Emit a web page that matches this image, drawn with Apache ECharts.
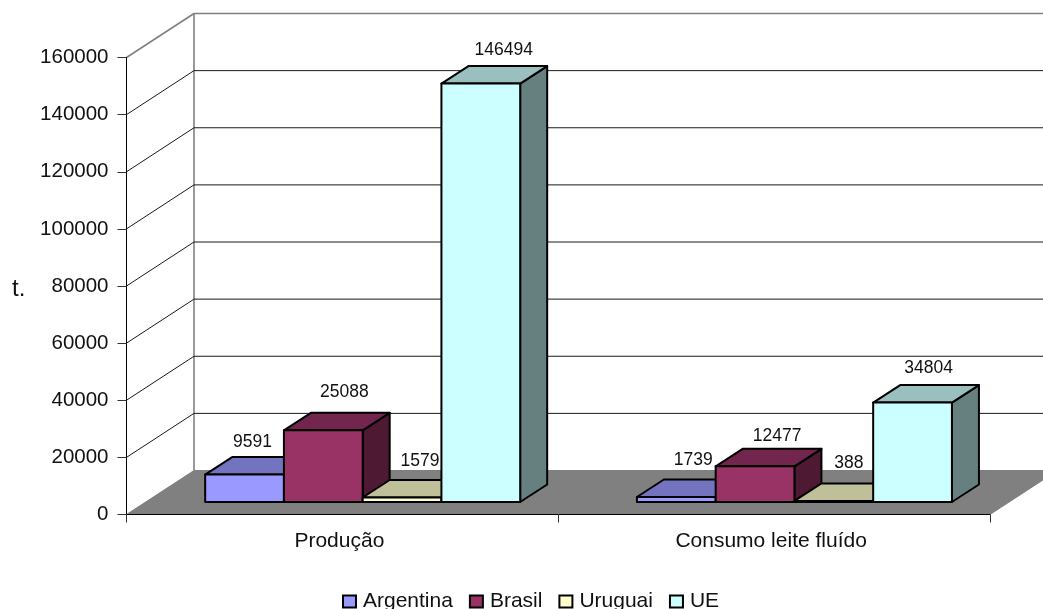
<!DOCTYPE html>
<html>
<head>
<meta charset="utf-8">
<style>html,body{margin:0;padding:0;background:#fff}#c{width:1043px;height:609px}</style>
<script src="https://cdn.jsdelivr.net/npm/echarts@6/dist/echarts.min.js"></script>
</head>
<body>
<div id="c"></div>
<script>
// Milk production and fluid consumption by region, drawn as extruded columns
const categories = ['Produção', 'Consumo leite fluído'];
const seriesNames = ['Argentina', 'Brasil', 'Uruguai', 'UE'];
const argentina = [9591, 1739];
const brasil = [25088, 12477];
const uruguai = [1579, 388];
const ue = [146494, 34804];
const yTicks = [0, 20000, 40000, 60000, 80000, 100000, 120000, 140000, 160000];
const unitLabel = 't.';

const FONT = '"Liberation Sans", Arial, sans-serif';
const frontColors = ['#9999FF', '#993366', '#FFFFCC', '#CCFFFF'];
const topColors = ['#7373BF', '#73264D', '#BFBF99', '#99BFBF'];
const sideColors = ['#4D4D80', '#4D1933', '#80806A', '#668080'];

// Projection of the chart box and of each column, in pixels
const WALL = [67.5, -44];
const FLOOR_SHIFT = [20.3, -12.5];
const BAR = [27, -17.5];
const BAR_BAND = 78.8 / 432;

// Per-label nudges from the column's front-top centre: [series][category]
const labelShift = [
  [[8, -32], [17, -37]],
  [[21, -38], [22, -30]],
  [[18, -36], [15, -38]],
  [[23, -33], [16, -34]]
];

function renderWalls(params, api) {
  const cs = params.coordSys;
  const left = cs.x, right = cs.x + cs.width;
  const tick = api.value(1);
  const y = api.coord([0, tick])[1];
  const isTop = tick === yTicks[yTicks.length - 1];
  const lineStyle = { stroke: isTop ? '#808080' : '#1a1a1a', lineWidth: isTop ? 1.6 : 1, fill: null };
  const children = [];
  if (tick === 0) {
    // Floor of the box
    children.push({
      type: 'polygon',
      shape: { points: [[left, y], [left + WALL[0], y + WALL[1]], [right + WALL[0], y + WALL[1]], [right, y]] },
      style: { fill: '#808080', stroke: '#808080', lineWidth: 1 }
    });
    // Back corner of the walls
    children.push({
      type: 'line',
      shape: { x1: left + WALL[0], y1: y + WALL[1], x2: left + WALL[0], y2: cs.y + WALL[1] },
      style: { stroke: '#808080', lineWidth: 1.6 }
    });
  } else {
    children.push({
      type: 'line',
      shape: { x1: left, y1: y, x2: left + WALL[0], y2: y + WALL[1] },
      style: lineStyle
    });
    children.push({
      type: 'line',
      shape: { x1: left + WALL[0], y1: y + WALL[1], x2: right + WALL[0], y2: y + WALL[1] },
      style: lineStyle
    });
  }
  return { type: 'group', children: children };
}

function renderColumn(params, api) {
  const s = params.seriesIndex - 1;
  const cat = api.value(0);
  const val = api.value(1);
  const band = api.size([1, 0])[0];
  const w = band * BAR_BAND;
  const base = api.coord([cat, 0]);
  const head = api.coord([cat, val]);
  const x0 = base[0] + FLOOR_SHIFT[0] + (s - 2) * w;
  const x1 = x0 + w;
  const y0 = base[1] + FLOOR_SHIFT[1];
  const y1 = head[1] + FLOOR_SHIFT[1];
  const dx = BAR[0], dy = BAR[1];
  const edge = { stroke: '#000', lineWidth: 2, lineJoin: 'round' };
  const shift = labelShift[s][cat];
  return {
    type: 'group',
    children: [
      { type: 'polygon', shape: { points: [[x1, y0], [x1 + dx, y0 + dy], [x1 + dx, y1 + dy], [x1, y1]] },
        style: Object.assign({ fill: sideColors[s] }, edge) },
      { type: 'polygon', shape: { points: [[x0, y1], [x0 + dx, y1 + dy], [x1 + dx, y1 + dy], [x1, y1]] },
        style: Object.assign({ fill: topColors[s] }, edge) },
      { type: 'polygon', shape: { points: [[x0, y0], [x0, y1], [x1, y1], [x1, y0]] },
        style: Object.assign({ fill: frontColors[s] }, edge) },
      { type: 'text', z2: 50,
        style: { text: String(val), x: (x0 + x1) / 2 + shift[0], y: y1 + shift[1],
                 align: 'center', verticalAlign: 'middle', fill: '#111', font: '17.5px ' + FONT } }
    ]
  };
}

function columnSeries(name, values, i) {
  return {
    name: name,
    type: 'custom',
    coordinateSystem: 'cartesian2d',
    z: 3,
    clip: false,
    itemStyle: { color: frontColors[i], borderColor: '#000', borderWidth: 2 },
    encode: { x: 0, y: 1 },
    data: values.map((v, c) => [c, v]),
    renderItem: renderColumn
  };
}

const chart = echarts.init(document.getElementById('c'), null, { renderer: 'canvas' });
chart.setOption({
  animation: false,
  backgroundColor: '#fff',
  grid: { left: 126.5, right: 53, top: 57.5, bottom: 94.5, containLabel: false },
  graphic: [{
    type: 'text',
    left: 12,
    top: 277,
    style: { text: unitLabel, fill: '#111', font: '24px ' + FONT }
  }],
  legend: {
    data: seriesNames.map(n => ({ name: n, icon: 'rect' })),
    top: 586,
    left: 337,
    itemWidth: 13,
    itemHeight: 12,
    itemGap: 16,
    textStyle: { fontFamily: FONT, fontSize: 21, color: '#111', padding: [0, 0, 0, 2] },
    itemStyle: { borderColor: '#000', borderWidth: 2 }
  },
  xAxis: {
    type: 'category',
    data: categories,
    z: 10,
    boundaryGap: true,
    axisLine: { show: true, lineStyle: { color: '#000', width: 1 } },
    axisTick: { show: true, interval: 0, length: 8, lineStyle: { color: '#333' } },
    axisLabel: { interval: 0, margin: 16, fontFamily: FONT, fontSize: 21, color: '#111', padding: [0, 6, 0, 0] }
  },
  yAxis: {
    type: 'value',
    min: 0,
    max: yTicks[yTicks.length - 1],
    interval: 20000,
    z: 10,
    splitLine: { show: false },
    axisLine: { show: true, lineStyle: { color: '#000', width: 1 } },
    axisTick: { show: true, length: 9, lineStyle: { color: '#333' } },
    axisLabel: { margin: 18, fontFamily: FONT, fontSize: 20.5, color: '#111', formatter: v => String(v) }
  },
  series: [
    {
      name: 'walls',
      type: 'custom',
      coordinateSystem: 'cartesian2d',
      z: 1,
      clip: false,
      silent: true,
      encode: { x: 0, y: 1 },
      data: yTicks.map(t => [0, t]),
      renderItem: renderWalls
    },
    columnSeries(seriesNames[0], argentina, 0),
    columnSeries(seriesNames[1], brasil, 1),
    columnSeries(seriesNames[2], uruguai, 2),
    columnSeries(seriesNames[3], ue, 3)
  ]
});
</script>
</body>
</html>
